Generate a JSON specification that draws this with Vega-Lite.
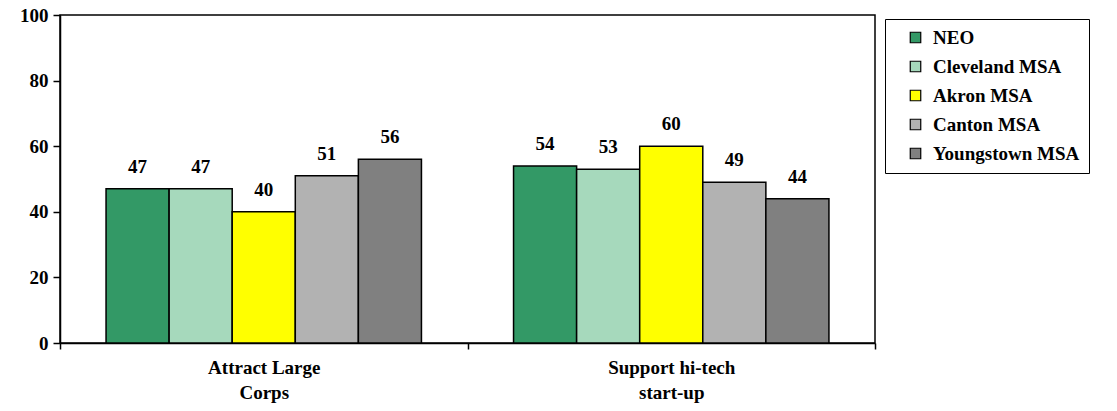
{
  "$schema": "https://vega.github.io/schema/vega-lite/v6.json",
  "width": 815,
  "height": 328,
  "autosize": {"type": "none"},
  "padding": {"left": 60, "top": 15, "right": 242, "bottom": 68},
  "background": "white",
  "config": {
    "view": {"stroke": "black", "strokeWidth": 1.5},
    "font": "Liberation Serif",
    "axis": {"labelFont": "Liberation Serif", "labelFontWeight": "bold", "labelFontSize": 19, "labelColor": "black", "domainColor": "black", "tickColor": "black", "domainWidth": 1.5, "tickWidth": 1.5, "grid": false, "title": null}
  },
  "data": {
    "values": [
      {"category": "Attract Large Corps", "region": "NEO", "value": 47},
      {"category": "Attract Large Corps", "region": "Cleveland MSA", "value": 47},
      {"category": "Attract Large Corps", "region": "Akron MSA", "value": 40},
      {"category": "Attract Large Corps", "region": "Canton MSA", "value": 51},
      {"category": "Attract Large Corps", "region": "Youngstown MSA", "value": 56},
      {"category": "Support hi-tech start-up", "region": "NEO", "value": 54},
      {"category": "Support hi-tech start-up", "region": "Cleveland MSA", "value": 53},
      {"category": "Support hi-tech start-up", "region": "Akron MSA", "value": 60},
      {"category": "Support hi-tech start-up", "region": "Canton MSA", "value": 49},
      {"category": "Support hi-tech start-up", "region": "Youngstown MSA", "value": 44}
    ]
  },
  "encoding": {
    "x": {
      "field": "category", "type": "nominal",
      "scale": {"paddingInner": 0, "paddingOuter": 0},
      "axis": {
        "labelAngle": 0, "tickBand": "extent", "tickSize": 6, "labelPadding": 9,
        "labelFontSize": 19, "labelLineHeight": 25, "labelBaseline": "top",
        "labelExpr": "datum.value == 'Attract Large Corps' ? ['Attract Large', 'Corps'] : (datum.value == 'Support hi-tech start-up' ? ['Support hi-tech', 'start-up'] : '')"
      }
    },
    "xOffset": {
      "field": "region", "type": "nominal",
      "sort": ["NEO", "Cleveland MSA", "Akron MSA", "Canton MSA", "Youngstown MSA"],
      "scale": {"paddingInner": 0, "paddingOuter": 0.73}
    },
    "y": {
      "field": "value", "type": "quantitative",
      "scale": {"domain": [0, 100], "nice": false},
      "axis": {"values": [0, 20, 40, 60, 80, 100], "tickSize": 7, "labelPadding": 5}
    }
  },
  "layer": [
    {
      "mark": {"type": "bar", "stroke": "black", "strokeWidth": 1.5},
      "encoding": {
        "color": {
          "field": "region", "type": "nominal",
          "sort": ["NEO", "Cleveland MSA", "Akron MSA", "Canton MSA", "Youngstown MSA"],
          "scale": {
            "domain": ["NEO", "Cleveland MSA", "Akron MSA", "Canton MSA", "Youngstown MSA"],
            "range": ["#339966", "#a6d9bc", "#ffff00", "#b2b2b2", "#808080"]
          },
          "legend": {
            "title": null, "orient": "none", "legendX": 825, "legendY": 4,
            "strokeColor": "black", "fillColor": "white",
            "padding": 9, "symbolType": "square", "symbolSize": 110,
            "symbolStrokeColor": "black", "symbolStrokeWidth": 1.2, "symbolOpacity": 1,
            "symbolOffset": 12,
            "labelFont": "Liberation Serif", "labelFontWeight": "bold", "labelFontSize": 19,
            "labelColor": "black", "labelOffset": 8, "rowPadding": 9, "labelLimit": 300
          }
        }
      }
    },
    {
      "mark": {"type": "text", "baseline": "middle", "dy": -22, "fontSize": 19, "fontWeight": "bold", "font": "Liberation Serif", "color": "black"},
      "encoding": {"text": {"field": "value", "type": "quantitative"}}
    }
  ]
}
